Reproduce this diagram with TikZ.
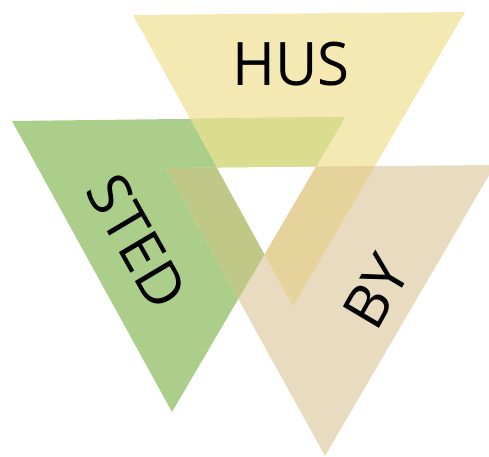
\documentclass[tikz,border=0pt]{standalone}
\usepackage{fontspec}
\setmainfont{Open Sans}
\definecolor{husyellow}{HTML}{F5E9B3}
\definecolor{stedgreen}{HTML}{ABCF8B}
\definecolor{bytan}{HTML}{E8DBC0}
\definecolor{husted}{HTML}{DADD8E}
\definecolor{stedby}{HTML}{C0C888}
\definecolor{husby}{HTML}{E6D39B}
\tikzset{word/.style={inner sep=0pt,text=black,font=\fontsize{60}{60}\selectfont,xscale=0.97}}
\newcommand{\husarea}{(133,441) -- (465,444) -- (293,150) -- cycle}
\newcommand{\stedarea}{(12,335) -- (345,339) -- (172,44) -- cycle}
\newcommand{\byarea}{(166,288) -- (495,291) -- (325,0) -- cycle}

\begin{document}
\begin{tikzpicture}[x=1pt,y=1pt]
\useasboundingbox (0,0) rectangle (489,456);
\clip (0,0) rectangle (489,456);
\fill[husyellow] \husarea;
\fill[stedgreen] \stedarea;
\fill[bytan] \byarea;
\begin{scope}
\clip \husarea;
\fill[husted] \stedarea;
\fill[husby] \byarea;
\end{scope}
\begin{scope}
\clip \stedarea;
\fill[stedby] \byarea;
\end{scope}
\begin{scope}
\clip \husarea;
\clip \stedarea;
\fill[white] \byarea;
\end{scope}
\node[word] (hus) at (291,392) {HUS};
\node[word,rotate=-60] (sted) at (137,214) {STED};
\node[word,rotate=60] (by) at (376,164) {BY};
\end{tikzpicture}
\end{document}
